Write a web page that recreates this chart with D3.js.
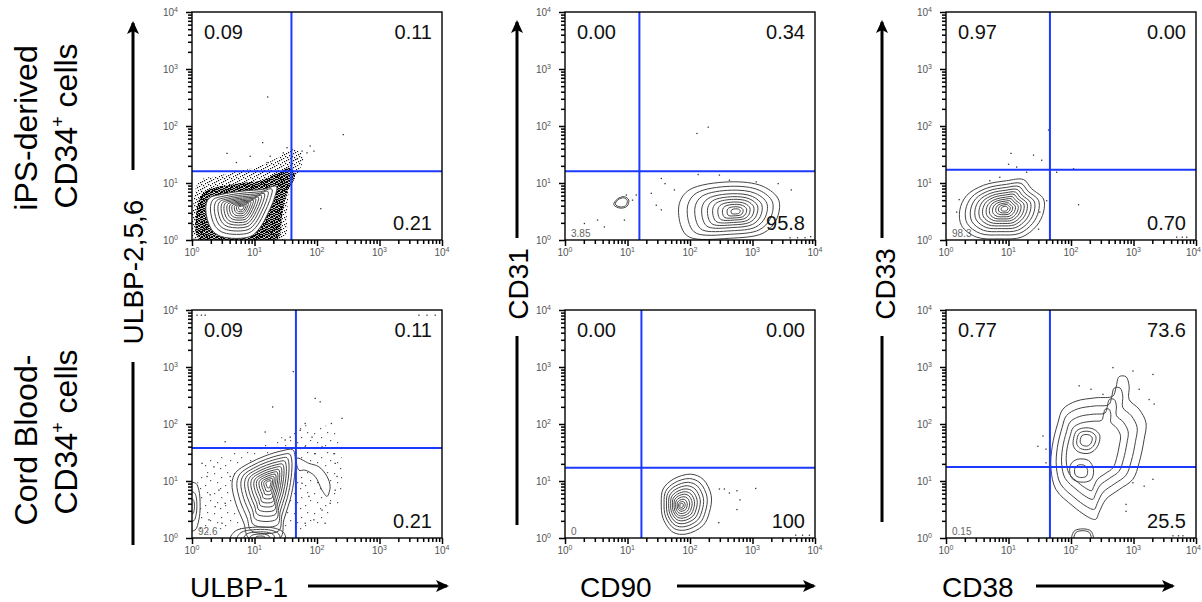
<!DOCTYPE html>
<html lang="en">
<head>
<meta charset="UTF-8">
<title>Flow cytometry: iPS-derived vs cord blood CD34+ cells</title>
<script src="https://d3js.org/d3.v7.min.js"></script>
<style>
  body { margin: 0; background: #fff; }
  svg { font-family: "Liberation Sans", Arial, sans-serif; }
  .frame { fill: none; stroke: #000; stroke-width: 1.4px; }
  .gate { stroke: #1c3aff; stroke-width: 2px; }
  .ring { fill: none; stroke: #444; stroke-width: 1px; }
  .ring-bg { fill: #fff; stroke: none; }
  .dot { fill: #333; }
  .axis path.domain { display: none; }
  .axis line { stroke: #000; stroke-width: 1.5px; }
  .tick-label { font-size: 10px; fill: #555; }
  .quad { font-size: 20px; fill: #111; }
  .quad-small { font-size: 10px; fill: #666; }
  .title { font-size: 28px; fill: #000; }
  .row-title { font-size: 32px; fill: #000; }
  .arrow { stroke: #000; stroke-width: 3px; fill: none; }
</style>
</head>
<body>
<svg id="chart" width="1202" height="602"></svg>
<script>
// axis names and row names
const xTitles = ["ULBP-1", "CD90", "CD38"];
const yTitles = ["ULBP-2,5,6", "CD31", "CD33"];
const rowTitles = [["iPS-derived", "CD34"], ["Cord Blood-", "CD34"]];
const decadeTicks = [1, 10, 100, 1000, 10000];

// quadrant percentages, panels row by row
const quadUL = ["0.09", "0.00", "0.97", "0.09", "0.00", "0.77"];
const quadUR = ["0.11", "0.34", "0.00", "0.11", "0.00", "73.6"];
const quadLR = ["0.21", "95.8", "0.70", "0.21", "100", "25.5"];
const quadLL = ["", "3.85", "98.3", "92.6", "0", "0.15"];

// quadrant gate positions (fluorescence units)
const gateX = [39, 15.5, 46, 46, 16.7, 46];
const gateY = [16, 16, 17, 38, 17, 17.6];

// contour outlines, in decades (log10 units)
const p1Outer = [[0.47,0.06],[0.31,0.19],[0.22,0.54],[0.27,0.73],[0.47,0.80],[0.82,0.86],[1.14,0.89],[1.35,0.94],[1.31,0.71],[1.22,0.48],[1.09,0.22],[0.93,0.06]];
const p1Peak = [0.79, 0.57];
const p2Outer = [[1.83,0.64],[1.99,0.88],[2.63,1.02],[3.17,0.94],[3.42,0.70],[3.38,0.35],[3.17,0.12],[2.63,0.03],[1.99,0.05],[1.86,0.23]];
const p2Peak = [2.74, 0.50];
const p2Small = [[0.78,0.62],[0.84,0.72],[0.95,0.76],[1.02,0.70],[0.99,0.59],[0.88,0.56]];
const p2SmallPeak = [0.9, 0.66];
const p3Outer = [[0.25,0.25],[0.22,0.52],[0.33,0.78],[0.60,0.96],[0.97,1.04],[1.24,1.06],[1.37,0.90],[1.56,0.72],[1.56,0.49],[1.45,0.25],[1.21,0.05],[0.86,0.02],[0.49,0.05]];
const p3Peak = [0.94, 0.55];
const p4Outer = [[0.91,0.0],[0.83,0.26],[0.70,0.61],[0.64,0.96],[0.70,1.15],[0.91,1.31],[1.17,1.44],[1.44,1.53],[1.61,1.55],[1.65,1.43],[1.64,1.08],[1.57,0.67],[1.47,0.32],[1.41,0.0]];
const p4Peak = [1.23, 0.96];
const p4Lobe = [[1.68,1.40],[1.87,1.31],[2.03,1.25],[2.16,1.08],[2.21,0.90],[2.16,0.73],[2.08,0.84],[1.97,1.08],[1.81,1.19],[1.71,1.19]];
const p4LobePeak = [1.95, 1.1];
const p4Edge = [[-0.05,0.96],[0.06,0.96],[0.11,0.84],[0.13,0.55],[0.11,0.32],[0.05,0.14],[-0.05,0.14]];
const p4EdgePeak = [0, 0.55];
const p4Base = [[0.61,-0.05],[0.69,0.12],[1.01,0.19],[1.33,0.17],[1.47,0.09],[1.49,-0.05]];
const p4BasePeak = [1.1, 0];
const p5Outer = [[1.57,0.86],[1.73,1.03],[2.01,1.12],[2.21,1.03],[2.34,0.74],[2.31,0.45],[2.21,0.22],[1.94,0.07],[1.73,0.10],[1.57,0.34],[1.54,0.63]];
const p5Peak = [1.86, 0.57];
const p6Outer = [[2.35,0.33],[2.24,0.39],[2.03,0.56],[1.76,0.85],[1.68,1.21],[1.70,1.61],[1.79,2.02],[1.87,2.26],[2.08,2.40],[2.40,2.46],[2.67,2.49],[2.72,2.64],[2.77,2.83],[2.88,2.83],[2.93,2.67],[2.93,2.43],[3.09,2.26],[3.20,2.02],[3.17,1.73],[3.09,1.32],[2.99,1.03],[2.77,0.85],[2.56,0.68],[2.45,0.45],[2.40,0.33]];
const p6Peak = [2.25, 1.5];
const p6Upper = [[2.04,1.74],[2.09,1.88],[2.2,1.93],[2.36,1.91],[2.46,1.8],[2.42,1.6],[2.3,1.49],[2.12,1.51],[2.04,1.61]];
const p6UpperPeak = [2.24, 1.72];
const p6Lower = [[2.0,1.3],[2.1,1.38],[2.28,1.36],[2.36,1.2],[2.32,1.02],[2.16,0.98],[2.02,1.04],[1.98,1.16]];
const p6LowerPeak = [2.15, 1.16];
const p6Dome = [[2.02,-0.05],[2.05,0.12],[2.19,0.16],[2.32,0.12],[2.35,-0.05]];
const p6DomePeak = [2.19, 0];

// nested contour levels (fraction of the outline, toward the peak)
const levels12 = [1, 0.87, 0.76, 0.66, 0.57, 0.49, 0.41, 0.34, 0.27, 0.2, 0.14, 0.08];
const levels11 = [1, 0.86, 0.74, 0.63, 0.53, 0.44, 0.36, 0.28, 0.2, 0.13, 0.07];
const levels10 = [1, 0.85, 0.72, 0.6, 0.5, 0.41, 0.32, 0.24, 0.16, 0.09];
const levels6Main = [1, 0.85, 0.7, 0.57];
const levels6Up = [1, 0.72, 0.45];
const levels6Low = [1, 0.55];
const levels5 = [1, 0.78, 0.56, 0.36, 0.18];
const levels2 = [1, 0.8];
const levels1 = [1];

// dense outlier clouds (drawn as stipple)
const p1Halo = [[0.04,0.01],[0.02,0.60],[0.12,1.04],[0.39,1.12],[0.77,1.21],[1.09,1.30],[1.41,1.47],[1.62,1.59],[1.78,1.47],[1.70,1.18],[1.57,0.95],[1.52,0.48],[1.46,0.01]];
const p1Core = [[0.12,0.01],[0.07,0.48],[0.18,0.83],[0.66,0.98],[1.09,1.04],[1.38,1.18],[1.57,1.27],[1.65,1.12],[1.52,0.83],[1.44,0.42],[1.36,0.01]];
const p4Halo = [[0.11,0.14],[0.11,1.08],[0.32,1.40],[0.91,1.54],[1.44,1.77],[1.81,1.98],[2.29,1.89],[2.40,1.31],[2.35,0.61],[2.08,0.26],[1.76,0.14],[0.64,0.14]];

// single outlier events, decades
const p1Dots = [[1.21,2.51],[2.42,1.85],[1.13,1.71],[0.56,1.52],[2.06,0.55],[1.89,1.65],[1.84,1.53],[1.76,1.56],[0.93,1.47],[1.25,1.47],[1.52,1.62],[0.71,1.36],[1.20,1.36],[1.46,1.53],[1.95,1.56],[1.68,1.42]];
const p2Dots = [[2.11,1.87],[2.29,1.98],[1.54,1.08],[1.60,0.99],[1.38,0.82],[1.46,0.61],[1.54,0.53],[1.75,0.88],[2.13,1.15],[2.47,1.14],[2.63,1.05],[3.06,1.02],[3.41,0.99],[3.62,0.88],[0.31,0.29],[0.52,0.35],[0.63,0.23],[0.95,0.35],[1.08,0.70],[0.98,0.79],[1.14,0.79],[3.60,0.04],[3.72,0.04],[3.84,0.04],[3.93,0.06]];
const p3Dots = [[1.04,1.52],[1.40,1.49],[1.53,1.40],[1.64,1.93],[1.00,1.33],[1.13,1.28],[1.29,1.19],[0.70,1.04],[0.86,1.10],[2.04,1.25],[2.12,0.62],[1.77,1.19],[1.61,0.69],[1.48,0.19],[1.50,0.49],[0.21,0.71],[0.17,0.49],[3.69,0.05],[3.78,0.05],[3.85,0.05]];
const p4Dots = [[1.62,2.92],[1.29,2.30],[1.97,2.45],[2.05,2.39],[2.40,2.10],[2.23,2.01],[1.81,2.01],[1.73,1.89],[1.92,1.77],[1.57,1.77],[1.49,1.72],[1.17,1.86],[0.53,1.69],[1.81,1.60],[2.08,1.60],[2.27,1.48],[1.97,1.48],[2.29,1.31],[2.32,1.08],[2.29,0.84],[2.21,0.61],[2.08,0.49],[1.95,0.32],[1.81,0.26],[2.13,0.26],[1.87,0.73],[1.76,0.96],[0.43,0.84],[0.29,0.76],[0.24,1.08],[0.37,0.55],[0.53,0.61],[0.27,0.32],[0.48,0.26],[0.61,1.08],[0.35,1.25],[0.16,1.31],[0.08,3.91],[0.15,3.91],[0.21,3.91],[3.63,3.91],[3.76,3.91],[3.89,3.91]];
const p5Dots = [[2.47,0.86],[2.55,0.86],[2.63,0.79],[2.75,0.83],[2.80,0.67],[2.75,0.50],[3.05,0.87],[2.46,0.27],[3.69,0.05],[3.80,0.05],[3.91,0.05]];
const p6Dots = [[2.13,2.67],[2.32,2.61],[2.51,2.52],[2.67,2.99],[2.99,2.93],[3.31,2.87],[3.25,2.43],[3.33,2.35],[3.09,2.61],[1.55,1.79],[1.47,1.61],[1.60,1.56],[1.60,1.32],[2.99,0.97],[3.17,0.91],[2.88,0.59],[2.88,0.47],[3.31,1.03],[3.63,0.04],[3.72,0.04],[3.79,0.04]];

// tables linking the arrays to panels
const clusters = [
  [0, p1Outer, p1Peak, levels12],
  [1, p2Outer, p2Peak, levels10], [1, p2Small, p2SmallPeak, levels2],
  [2, p3Outer, p3Peak, levels12],
  [3, p4Outer, p4Peak, levels12], [3, p4Lobe, p4LobePeak, levels1],
  [3, p4Edge, p4EdgePeak, [1, 0.6, 0.3]], [3, p4Base, p4BasePeak, levels5],
  [4, p5Outer, p5Peak, levels11],
  [5, p6Outer, p6Peak, levels6Main], [5, p6Upper, p6UpperPeak, levels6Up],
  [5, p6Lower, p6LowerPeak, levels6Low], [5, p6Dome, p6DomePeak, levels2]
];
const halos = [[0, p1Halo, "sparse"], [0, p1Core, "dense"], [3, p4Halo, "faint"]];
const dotSets = [p1Dots, p2Dots, p3Dots, p4Dots, p5Dots, p6Dots];

// layout
const W = 250, H = 228;
const colLeft = [192, 565, 946];
const rowTop = [12, 310];
const pageW = 1202;
const dec = v => 10 ** v;

const svg = d3.select("#chart");
const defs = svg.append("defs");

// stipple tiles for the dense event clouds
function addPattern(id, size, pts, colour) {
  const p = defs.append("pattern").attr("id", id)
    .attr("patternUnits", "userSpaceOnUse")
    .attr("width", size).attr("height", size);
  p.selectAll("rect").data(pts).join("rect")
    .attr("x", d => d[0]).attr("y", d => d[1])
    .attr("width", 1.2).attr("height", 1.2).attr("fill", colour);
}
addPattern("sparse", 7, [[1,2],[5,0],[4,5],[2,4],[0,6],[6,3],[3,1]], "#111");
addPattern("dense", 5, [[0,0],[2,1],[4,0],[1,3],[3,2],[4,4],[0,4],[2,3],[3,0],[1,1],[4,2],[2,4],[0,2]], "#000");
addPattern("faint", 20, [[2,3],[9,7],[15,2],[5,12],[13,15],[18,10],[8,18]], "#555");

defs.append("marker").attr("id", "arrowhead")
  .attr("viewBox", "0 -6 13 12").attr("refX", 11).attr("refY", 0)
  .attr("markerWidth", 13).attr("markerHeight", 12)
  .attr("markerUnits", "userSpaceOnUse").attr("orient", "auto")
  .append("path").attr("d", "M0,-6L13,0L0,6L3,0Z").attr("fill", "#000");

d3.range(6).forEach(i => {
  const row = Math.floor(i / 3), col = i % 3;
  const left = colLeft[col];
  const g = svg.append("g").attr("transform", `translate(${left},${rowTop[row]})`);
  const x = d3.scaleLog().domain([1, 1e4]).range([0, W]);
  const y = d3.scaleLog().domain([1, 1e4]).range([H, 0]);
  const closed = d3.line()
    .x(d => x(dec(d[0]))).y(d => y(dec(d[1])))
    .curve(d3.curveCatmullRomClosed.alpha(0.5));

  defs.append("clipPath").attr("id", `clip${i}`)
    .append("rect").attr("width", W).attr("height", H);
  const plot = g.append("g").attr("clip-path", `url(#clip${i})`);

  // stippled event clouds
  halos.filter(h => h[0] === i).forEach(h => {
    plot.append("path").attr("d", closed(h[1])).attr("fill", `url(#${h[2]})`);
  });

  const mine = clusters.filter(c => c[0] === i);
  // blank the inside of each outer contour (no dots drawn inside)
  mine.forEach(c => {
    plot.append("path").attr("class", "ring-bg").attr("d", closed(c[1]));
  });
  // nested contour rings
  mine.forEach(([, outer, peak, levels]) => {
    plot.selectAll(null).data(levels).join("path")
      .attr("class", "ring")
      .attr("d", f => closed(outer.map(p => [peak[0] + f * (p[0] - peak[0]), peak[1] + f * (p[1] - peak[1])])));
  });

  plot.selectAll(".dot").data(dotSets[i]).join("rect")
    .attr("class", "dot")
    .attr("x", d => x(dec(d[0])) - 0.6).attr("y", d => y(dec(d[1])) - 0.6)
    .attr("width", 1.3).attr("height", 1.3);

  g.append("text").attr("class", "quad-small").attr("x", 6).attr("y", H - 3).text(quadLL[i]);

  // quadrant gate
  g.append("line").attr("class", "gate")
    .attr("x1", x(gateX[i])).attr("x2", x(gateX[i])).attr("y1", 0).attr("y2", H);
  g.append("line").attr("class", "gate")
    .attr("x1", 0).attr("x2", W).attr("y1", y(gateY[i])).attr("y2", y(gateY[i]));

  g.append("rect").attr("class", "frame").attr("width", W).attr("height", H);

  g.append("text").attr("class", "quad").attr("x", 12).attr("y", 27).text(quadUL[i]);
  g.append("text").attr("class", "quad").attr("x", W - 10).attr("y", 27)
    .attr("text-anchor", "end").text(quadUR[i]);
  g.append("text").attr("class", "quad").attr("x", W - 10).attr("y", H - 10)
    .attr("text-anchor", "end").text(quadLR[i]);

  // log axes: short minor ticks, longer decade ticks
  const minor = x.ticks().filter(v => !decadeTicks.includes(v));
  g.append("g").attr("class", "axis").attr("transform", `translate(0,${H})`)
    .call(d3.axisBottom(x).tickValues(minor).tickSize(4).tickFormat(""));
  g.append("g").attr("class", "axis").attr("transform", `translate(0,${H})`)
    .call(d3.axisBottom(x).tickValues(decadeTicks).tickSize(6).tickFormat(""));
  g.append("g").attr("class", "axis")
    .call(d3.axisLeft(y).tickValues(minor).tickSize(4).tickFormat(""));
  g.append("g").attr("class", "axis")
    .call(d3.axisLeft(y).tickValues(decadeTicks).tickSize(6).tickFormat(""));

  // a label that would run past the page edge is right-aligned instead
  const fits = d => left + x(d) + 10 < pageW;
  const xl = g.selectAll(".xl").data(decadeTicks).join("text")
    .attr("class", "tick-label").attr("y", H + 16)
    .attr("x", d => fits(d) ? x(d) : pageW - left - 1)
    .attr("text-anchor", d => fits(d) ? "middle" : "end");
  xl.append("tspan").text("10");
  xl.append("tspan").attr("dy", -4).attr("font-size", 7).text(d => Math.round(Math.log10(d)));

  const yl = g.selectAll(".yl").data(decadeTicks).join("text")
    .attr("class", "tick-label").attr("x", -14).attr("y", d => y(d) + 4)
    .attr("text-anchor", "end");
  yl.append("tspan").text("10");
  yl.append("tspan").attr("dy", -4).attr("font-size", 7).text(d => Math.round(Math.log10(d)));
});

// x titles with arrows
const xTitleX = [190, 580, 942];
const xArrow = [[308, 447], [677, 814], [1036, 1173]];
xTitles.forEach((t, k) => {
  svg.append("text").attr("class", "title").attr("x", xTitleX[k]).attr("y", 597).text(t);
  svg.append("line").attr("class", "arrow")
    .attr("x1", xArrow[k][0]).attr("x2", xArrow[k][1]).attr("y1", 586).attr("y2", 586)
    .attr("marker-end", "url(#arrowhead)");
});

// y titles, rotated, with arrow above and plain line below
const yTitlePos = [[143, 272], [528, 284], [895, 284]];
const yLineX = [133, 517, 882];
const yArrowSpan = [[170, 23], [238, 22], [238, 22]];
const yLowerSpan = [[362, 545], [336, 525], [336, 522]];
yTitles.forEach((t, k) => {
  svg.append("text").attr("class", "title").attr("text-anchor", "middle")
    .attr("transform", `translate(${yTitlePos[k][0]},${yTitlePos[k][1]}) rotate(-90)`).text(t);
  svg.append("line").attr("class", "arrow")
    .attr("x1", yLineX[k]).attr("x2", yLineX[k])
    .attr("y1", yArrowSpan[k][0]).attr("y2", yArrowSpan[k][1])
    .attr("marker-end", "url(#arrowhead)");
  svg.append("line").attr("class", "arrow")
    .attr("x1", yLineX[k]).attr("x2", yLineX[k])
    .attr("y1", yLowerSpan[k][0]).attr("y2", yLowerSpan[k][1]);
});

// row titles
const rowCenters = [[128, 126], [440, 432]];
rowTitles.forEach((r, k) => {
  svg.append("text").attr("class", "row-title").attr("text-anchor", "middle")
    .attr("transform", `translate(37,${rowCenters[k][0]}) rotate(-90)`).text(r[0]);
  const t = svg.append("text").attr("class", "row-title").attr("text-anchor", "middle")
    .attr("transform", `translate(77,${rowCenters[k][1]}) rotate(-90)`);
  t.append("tspan").text(r[1]);
  t.append("tspan").attr("font-size", 18).attr("dy", -13).text("+");
  t.append("tspan").attr("dy", 13).text(" cells");
});
</script>
</body>
</html>
